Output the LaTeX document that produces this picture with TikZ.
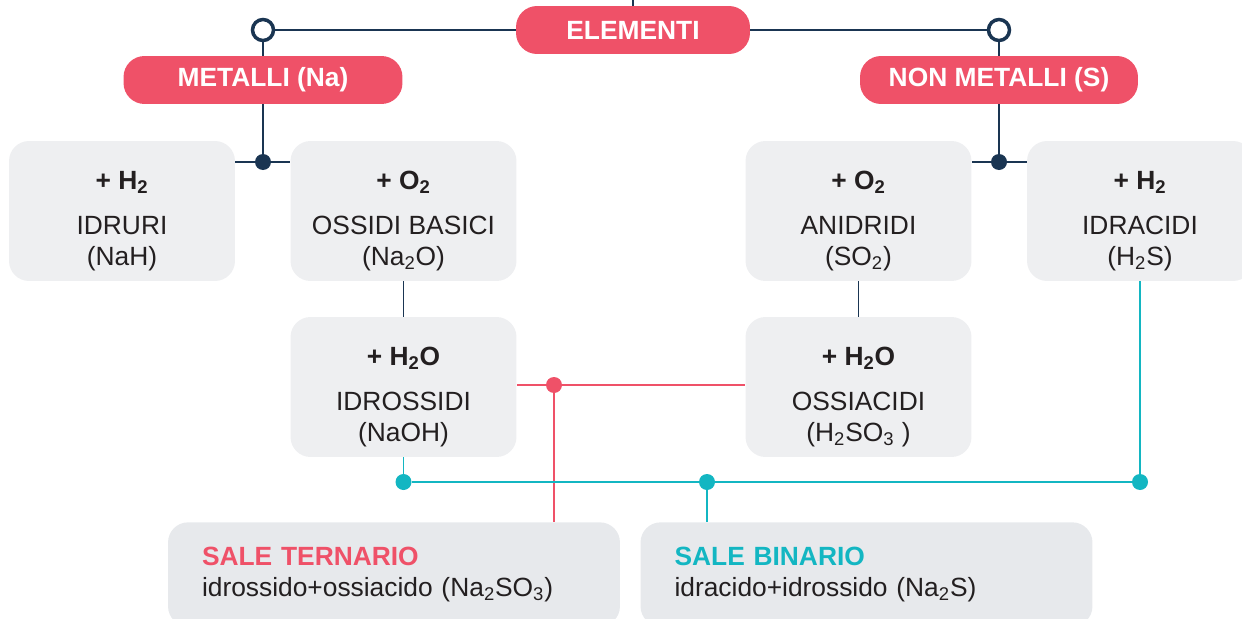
\documentclass[tikz,border=0pt]{standalone}
\usepackage{fontspec}
\setmainfont{Liberation Sans}
\usepackage{xcolor}
\usepackage{tikz}
\usetikzlibrary{positioning}

\definecolor{chemred}{HTML}{EF5168}
\definecolor{chemteal}{HTML}{13B6C2}
\definecolor{chemnavy}{HTML}{1A3552}
\definecolor{cardgray}{HTML}{EEEFF1}
\definecolor{salegray}{HTML}{E7E9EC}
\definecolor{inkdark}{HTML}{231F20}

\newcommand{\cardhead}[1]{\rule{0pt}{22pt}\textbf{#1}}

\tikzset{
  pill/.style={fill=chemred, text=white, rounded corners=0.42cm, minimum height=0.96cm, inner sep=0pt, font=\fontsize{15}{18}\selectfont\bfseries},
  card/.style={fill=cardgray, text=inkdark, rounded corners=0.4cm, minimum width=4.52cm, minimum height=2.8cm, inner sep=0pt, align=center, font=\fontsize{15}{17.6}\selectfont},
  salebox/.style={fill=salegray, text=inkdark, rounded corners=0.4cm, text width=7.68cm, inner xsep=0.68cm, inner ysep=0pt, minimum height=2.08cm, align=left, anchor=north, font=\fontsize{15}{17.6}\selectfont},
  ring/.style={circle, draw=chemnavy, line width=2pt, fill=white, minimum size=0.42cm, inner sep=0pt},
  knot/.style={circle, fill=#1, minimum size=0.32cm, inner sep=0pt},
  navyline/.style={draw=chemnavy, line width=0.8pt},
  redline/.style={draw=chemred, line width=1pt},
  tealline/.style={draw=chemteal, line width=1pt}
}

\begin{document}
\begin{tikzpicture}[x=0.02cm, y=-0.02cm]
\useasboundingbox (0, 0) rectangle (1242, 619);
\clip (0, 0) rectangle (1242, 619);

\node[pill, minimum width=4.68cm] (elem) at (633, 30) {ELEMENTI};
\node[pill, minimum width=5.58cm] (metal) at (263, 80) {METALLI (Na)};
\node[pill, minimum width=5.56cm] (nonmetal) at (999, 80) {NON METALLI (S)};

\node[card] (idruri) at (122, 211) {\cardhead{+ H\textsubscript{2}}\\[8pt] IDRURI\\ (NaH)};
\node[card] (ossidi) at (403.5, 211) {\cardhead{+ O\textsubscript{2}}\\[8pt] OSSIDI BASICI\\ (Na\textsubscript{2}O)};
\node[card] (anidridi) at (858.5, 211) {\cardhead{+ O\textsubscript{2}}\\[8pt] ANIDRIDI\\ (SO\textsubscript{2})};
\node[card] (idracidi) at (1140, 211) {\cardhead{+ H\textsubscript{2}}\\[8pt] IDRACIDI\\ (H\textsubscript{2}S)};

\node[card] (idrossidi) at (403.5, 387) {\cardhead{+ H\textsubscript{2}O}\\[8pt] IDROSSIDI\\ (NaOH)};
\node[card] (ossiacidi) at (858.5, 387) {\cardhead{+ H\textsubscript{2}O}\\[8pt] OSSIACIDI\\ (H\textsubscript{2}SO\textsubscript{3} )};

\node[salebox] (ternario) at (394, 522) {\textcolor{chemred}{\bfseries SALE TERNARIO}\\ idrossido+ossiacido (Na\textsubscript{2}SO\textsubscript{3})};
\node[salebox] (binario) at (866.5, 522) {\textcolor{chemteal}{\bfseries SALE BINARIO}\\ idracido+idrossido (Na\textsubscript{2}S)};

\coordinate (topend) at (632, -2);

\draw[navyline] (elem) -- (elem |- topend);
\node[ring] (ringL) at (263, 30) {};
\node[ring] (ringR) at (999, 30) {};
\draw[navyline] (ringL) -- (elem);
\draw[navyline] (elem) -- (ringR);
\draw[navyline] (ringL) -- (metal);
\draw[navyline] (ringR) -- (nonmetal);

\node[knot=chemnavy] (hubL) at (263, 162) {};
\node[knot=chemnavy] (hubR) at (999, 162) {};
\draw[navyline] (metal) -- (hubL);
\draw[navyline] (nonmetal) -- (hubR);
\draw[navyline] (idruri.east |- hubL) -- (ossidi.west |- hubL);
\draw[navyline] (anidridi.east |- hubR) -- (idracidi.west |- hubR);

\draw[navyline] (ossidi) -- (idrossidi);
\draw[navyline] (anidridi) -- (ossiacidi);

\node[knot=chemred] (dotred) at (554, 385) {};
\draw[redline] (idrossidi.east |- dotred) -- (ossiacidi.west |- dotred);
\draw[redline] (dotred) -- (ternario.north -| dotred);

\node[knot=chemteal] (dotA) at (403.5, 482) {};
\node[knot=chemteal] (dotB) at (707, 482) {};
\node[knot=chemteal] (dotC) at (1140, 482) {};
\draw[tealline] (idrossidi) -- (dotA);
\draw[tealline] (dotA) -- (dotC);
\draw[tealline] (idracidi) -- (dotC);
\draw[tealline] (dotB) -- (binario.north -| dotB);
\end{tikzpicture}
\end{document}
